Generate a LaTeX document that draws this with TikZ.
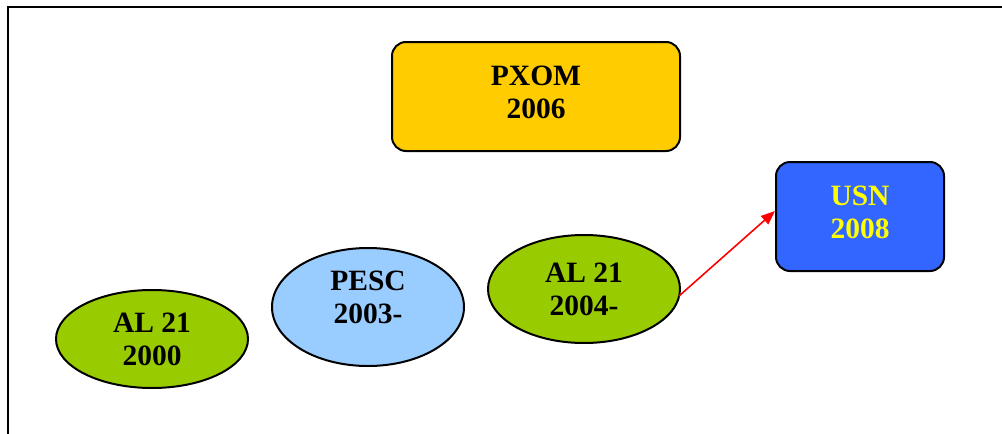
\documentclass[tikz,border=0pt]{standalone}
\usepackage{fontspec}
\setmainfont{Liberation Serif}
\usetikzlibrary{shapes.geometric,arrows.meta}
\definecolor{pxom}{HTML}{FFCC00}
\definecolor{usn}{HTML}{3366FF}
\definecolor{algreen}{HTML}{99CC00}
\definecolor{pescblue}{HTML}{99CCFF}
\definecolor{usntext}{HTML}{FFFF00}
\tikzset{
  lbl/.style={font=\fontsize{29.5}{33}\selectfont\bfseries, align=center, line width=2pt, draw=black},
  rbox/.style={lbl, rectangle, rounded corners=14pt, inner sep=0pt, text depth=8pt},
  oval/.style={lbl, ellipse, inner sep=0pt},
  link/.style={draw=red, line width=1.6pt, -{Triangle[length=14pt,width=11pt]}}
}
\begin{document}
\begin{tikzpicture}[x=1pt,y=-1pt]
\useasboundingbox (0,0) rectangle (1002,434);
\draw[line width=2.4pt, line cap=rect] (8,434) -- (8,7) -- (1002,7);
\node[rbox, fill=pxom, minimum width=288pt, minimum height=109pt] (pxom) at (536,96.5) {PXOM\\2006};
\node[rbox, fill=usn, text=usntext, minimum width=168pt, minimum height=109pt] (usn) at (860,216.5) {USN\\2008};
\node[oval, fill=algreen, minimum width=192pt, minimum height=98pt] (al0) at (152,339) {AL 21\\2000};
\node[oval, fill=pescblue, minimum width=192pt, minimum height=118pt, text depth=20pt] (pesc) at (368,307) {PESC\\2003-};
\node[oval, fill=algreen, minimum width=192pt, minimum height=108pt] (al4) at (584,289) {AL 21\\2004-};
\draw[link] (al4.east) ++(-2pt,-7pt) coordinate (s) (s) -- (usn.west |- 0,211);
\end{tikzpicture}
\end{document}
